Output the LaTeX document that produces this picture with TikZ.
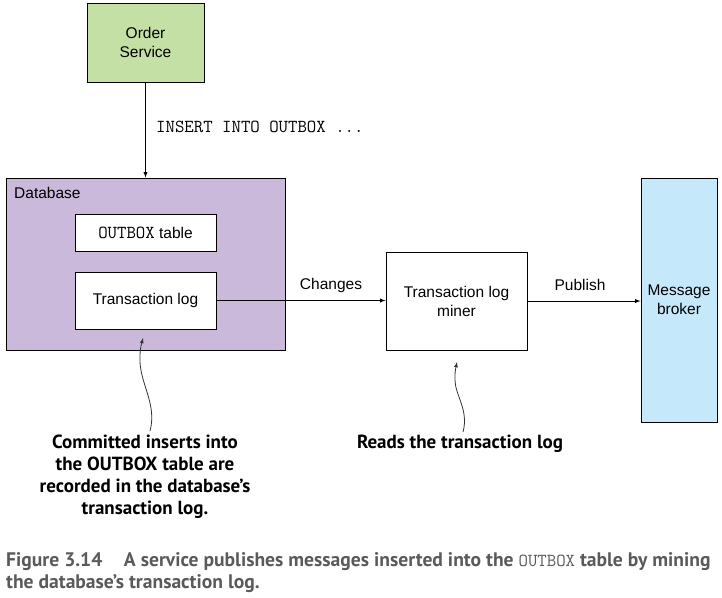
\documentclass[tikz,border=0pt]{standalone}
\usepackage{fontspec}
\setmainfont{Liberation Sans}
\newfontfamily\notefont{PT Sans}
\usetikzlibrary{arrows, positioning}

\definecolor{svcgreen}{RGB}{197,224,165}
\definecolor{dbpurple}{RGB}{203,185,220}
\definecolor{brokerblue}{RGB}{197,232,250}
\definecolor{capgray}{RGB}{90,90,90}

\newcommand{\code}[1]{{\fontsize{18.3}{19}\selectfont\ttfamily #1}}

\tikzset{
	box/.style={draw=black, line width=0.9pt, fill=white, align=center, inner sep=0pt, font=\fontsize{15.5}{19}\selectfont},
	flow/.style={-latex, line width=0.9pt},
	notearrow/.style={-latex, line width=0.8pt, color=black!80},
	note/.style={align=center, font=\notefont\bfseries\fontsize{19}{22}\selectfont},
	lbl/.style={font=\fontsize{15.5}{19}\selectfont}
}

\begin{document}
\begin{tikzpicture}[x=1pt, y=-1pt]
	\useasboundingbox (0,0) rectangle (722,597);
	% boxes
	\node[box, fill=svcgreen, minimum width=117pt, minimum height=79pt] (order) at (145.5,42.5) {Order\\Service};
	\node[box, fill=dbpurple, minimum width=279pt, minimum height=172pt] (db) at (145.5,264) {};
	\node[lbl, anchor=west, inner sep=2pt] (dblabel) at (12,193) {Database};
	\node[box, minimum width=141pt, minimum height=37pt] (outbox) at (145.5,232.5) {\code{OUTBOX} table};
	\node[box, minimum width=141pt, minimum height=57pt] (txlog) at (145.5,300.5) {Transaction log};
	\node[box, minimum width=141pt, minimum height=98pt] (miner) at (456.5,301) {Transaction log\\miner};
	\node[box, fill=brokerblue, minimum width=76pt, minimum height=244pt] (broker) at (679,300) {Message\\broker};
	% connectors
	\draw[flow] (order.south) -- (db.north);
	\node[lbl, anchor=west, inner sep=0pt] (insert) at (156,127) {\code{INSERT INTO OUTBOX ...}};
	\draw[flow] (txlog.east) -- (txlog.east -| miner.west);
	\node[lbl] (changes) at (331,285) {Changes};
	\draw[flow] (miner.east) -- (miner.east -| broker.west);
	\node[lbl] (publish) at (580,285) {Publish};
	% annotations
	\node[note, anchor=north] (note1) at (145,431) {Committed inserts into\\the OUTBOX table are\\recorded in the database’s\\transaction log.};
	\node[note, anchor=north] (note2) at (460,431) {Reads the transaction log};
	\coordinate (tip1) at (143,338);
	\coordinate (tip2) at (457,362);
	\draw[notearrow] (150,431) .. controls (157,405) and (141,385) .. (140,362) .. controls (140,350) .. (tip1);
	\draw[notearrow] (463,432) .. controls (469,410) and (455,395) .. (455,380) .. controls (455,372) .. (tip2);
	% caption
	\node[anchor=north west, inner sep=0pt, align=left, text=capgray, font=\notefont\bfseries\fontsize{19.6}{22}\selectfont] (caption) at (6,552)
		{Figure 3.14\hspace{1.1em}A service publishes messages inserted into the {\mdseries\code{OUTBOX}} table by mining\\the database’s transaction log.};
\end{tikzpicture}
\end{document}
